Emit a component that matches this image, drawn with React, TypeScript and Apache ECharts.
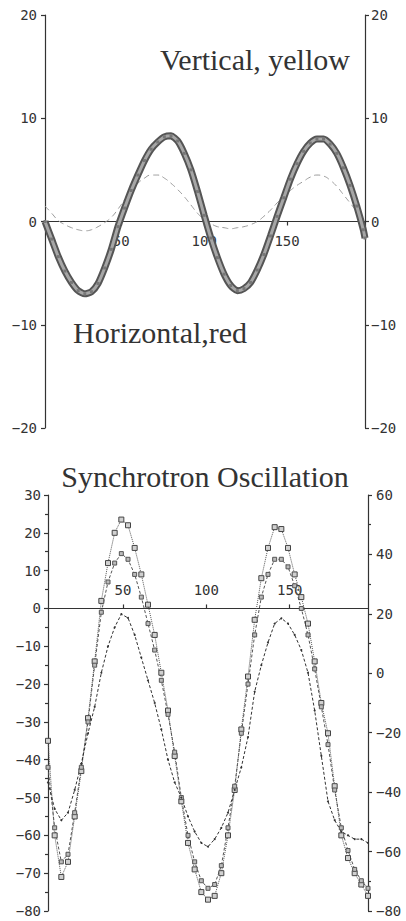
import React, { useEffect, useRef } from "react";
import * as echarts from "echarts";

// ---------- Top panel data (betatron oscillation) ----------
const topX = [4, 8, 12, 16, 20, 24, 28, 32, 36, 40, 44, 48, 52, 56, 60, 64, 68, 72, 76, 80, 84, 88, 92, 96, 100, 104, 108, 112, 116, 120, 124, 128, 132, 136, 140, 144, 148, 152, 156, 160, 164, 168, 172, 176, 180, 184, 188, 192, 196, 197];
const horizontalRed = [0, -1.7, -3.4, -4.8, -5.9, -6.7, -7.0, -6.8, -6.0, -4.5, -2.7, -0.5, 1.3, 3.0, 4.5, 5.9, 7.0, 7.7, 8.2, 8.3, 7.8, 6.6, 5.0, 2.9, 0.6, -1.6, -3.5, -5.1, -6.2, -6.7, -6.5, -5.9, -4.7, -3.2, -1.4, 0.5, 2.3, 4.1, 5.6, 6.8, 7.6, 8.0, 8.0, 7.5, 6.6, 5.2, 3.5, 1.5, -0.8, -1.6];
const verticalYellow = [1.5, 0.8, 0.1, -0.3, -0.6, -0.8, -0.9, -0.8, -0.5, -0.1, 0.4, 1.2, 2.1, 3.0, 3.7, 4.2, 4.5, 4.5, 4.2, 3.7, 3.1, 2.4, 1.6, 0.8, 0.2, -0.2, -0.5, -0.6, -0.7, -0.6, -0.5, -0.3, 0.0, 0.5, 1.1, 1.8, 2.4, 3.0, 3.5, 3.9, 4.3, 4.5, 4.4, 4.0, 3.4, 2.6, 1.8, 1.0, 0.4, 0.3];

// ---------- Bottom panel data (synchrotron oscillation) ----------
const bottomX = [5, 9, 13, 17, 21, 25, 29, 33, 37, 41, 45, 49, 53, 57, 61, 65, 69, 73, 77, 81, 85, 89, 93, 97, 101, 105, 109, 113, 117, 121, 125, 129, 133, 137, 141, 145, 149, 153, 157, 161, 165, 169, 173, 177, 181, 185, 189, 193, 197];
const synchA = [-35, -60, -71, -67, -55, -43, -29, -14, 2, 12, 20, 23.5, 22, 16, 9, 1, -7, -17, -27, -39, -51, -62, -69, -75, -77, -76, -70, -60, -48, -32, -18, -3, 8, 16, 21.5, 21, 16, 9, 3, -4, -14, -25, -33, -47, -60, -66, -70, -73, -76];
const synchB = [-42, -58, -67, -65, -54, -42, -30, -15, -1, 7, 12, 14.5, 13, 9, 3, -4, -11, -19, -28, -38, -50, -60, -67, -72, -74, -73, -68, -58, -47, -33, -20, -7, 3, 9, 13, 13, 11, 6, 0, -7, -16, -26, -36, -48, -58, -64, -69, -72, -74];
const synchC = [-46, -53, -56, -54, -48, -41, -33, -26, -17, -10, -5, -1.5, -2.5, -7, -13, -19, -25, -32, -40, -46, -50, -55, -59, -62, -63, -61, -58, -54, -48, -42, -34, -22, -15, -9, -4, -2.6, -4, -7, -11, -17, -27, -39, -51, -56, -59, -60, -61, -61, -62];

// ---------- Tick values ----------
const xTickValues = [50, 100, 150];

const AXIS = "#333";
const LABEL_FONT = "DejaVu Sans Mono";
const minusFmt = (v: number) => String(v).replace("-", "\u2212");

// layout (pixels)
const G0 = { left: 45, top: 15, width: 320, height: 413 };
const G1 = { left: 48, top: 495, width: 320, height: 416 };

export default function App() {
  const ref = useRef<HTMLDivElement>(null);

  useEffect(() => {
    if (!ref.current) return;
    const chart = echarts.init(ref.current, undefined, { renderer: "svg" });

    const pairs = (xs: number[], ys: number[]) => xs.map((x, i) => [x, ys[i]]);

    const axisLabel = (extra: any = {}) => ({
      color: "#333",
      fontFamily: LABEL_FONT,
      fontSize: 14,
      formatter: minusFmt,
      ...extra,
    });
    const lineStyle = { color: AXIS, width: 1.2 };

    // offsets that bring each x axis up to the y = 0 line of its left axis
    const off0 = -(G0.height * (0 - -20)) / 40;
    const off1 = -(G1.height * (0 - -80)) / 110;

    const option: any = {
      animation: false,
      backgroundColor: "#fff",
      grid: [G0, G1],
      xAxis: [
        {
          gridIndex: 0,
          type: "value",
          position: "bottom",
          offset: off0,
          min: 4,
          max: 197,
          axisLine: { onZero: false, lineStyle },
          axisTick: { show: true, customValues: xTickValues, length: 4, lineStyle },
          axisLabel: axisLabel({ customValues: xTickValues, margin: 12 }),
          splitLine: { show: false },
        },
        {
          gridIndex: 1,
          type: "value",
          position: "bottom",
          offset: off1,
          min: 5,
          max: 197,
          axisLine: { onZero: false, lineStyle },
          axisTick: { show: true, customValues: xTickValues, length: 4, inside: true, lineStyle },
          axisLabel: axisLabel({ customValues: xTickValues, inside: true, margin: 11 }),
          splitLine: { show: false },
        },
      ],
      yAxis: [
        {
          gridIndex: 0,
          type: "value",
          position: "left",
          min: -20,
          max: 20,
          interval: 10,
          axisLine: { show: true, onZero: false, lineStyle },
          axisTick: { show: true, length: 4, lineStyle },
          axisLabel: axisLabel({ margin: 8 }),
          splitLine: { show: false },
        },
        {
          gridIndex: 0,
          type: "value",
          position: "right",
          min: -20,
          max: 20,
          interval: 10,
          axisLine: { show: true, onZero: false, lineStyle },
          axisTick: { show: true, length: 4, lineStyle },
          axisLabel: axisLabel({ margin: 6 }),
          splitLine: { show: false },
        },
        {
          gridIndex: 1,
          type: "value",
          position: "left",
          min: -80,
          max: 30,
          interval: 10,
          axisLine: { show: true, onZero: false, lineStyle },
          axisTick: { show: true, length: 4, lineStyle },
          minorTick: { show: true, splitNumber: 2, length: 3, lineStyle },
          axisLabel: axisLabel({ margin: 7 }),
          splitLine: { show: false },
        },
        {
          gridIndex: 1,
          type: "value",
          position: "right",
          min: -80,
          max: 60,
          interval: 20,
          axisLine: { show: true, onZero: false, lineStyle },
          axisTick: { show: true, length: 4, lineStyle },
          minorTick: { show: true, splitNumber: 2, length: 3, lineStyle },
          axisLabel: axisLabel({ margin: 8 }),
          splitLine: { show: false },
        },
      ],
      series: [
        {
          name: "Vertical, yellow",
          type: "line",
          xAxisIndex: 0,
          yAxisIndex: 0,
          data: pairs(topX, verticalYellow),
          smooth: true,
          symbol: "none",
          lineStyle: { color: "#9a9a9a", width: 1, type: [6, 4] },
          z: 2,
        },
        {
          name: "Horizontal, red (edge)",
          type: "line",
          xAxisIndex: 0,
          yAxisIndex: 0,
          data: pairs(topX, horizontalRed),
          smooth: 0.2,
          symbol: "none",
          lineStyle: { color: "#555", width: 7 },
          z: 3,
        },
        {
          name: "Horizontal, red",
          type: "line",
          xAxisIndex: 0,
          yAxisIndex: 0,
          data: pairs(topX, horizontalRed),
          smooth: 0.2,
          symbol: "rect",
          symbolSize: 3,
          showAllSymbol: true,
          lineStyle: { color: "#a6a6a6", width: 3 },
          itemStyle: { color: "#777", borderWidth: 0 },
          z: 4,
        },
        {
          name: "A",
          type: "line",
          xAxisIndex: 1,
          yAxisIndex: 2,
          data: pairs(bottomX, synchA),
          symbol: "rect",
          symbolSize: 5,
          showAllSymbol: true,
          lineStyle: { color: "#555", width: 1, type: "dotted" },
          itemStyle: { color: "#d0d0d0", borderColor: "#444", borderWidth: 1 },
        },
        {
          name: "B",
          type: "line",
          xAxisIndex: 1,
          yAxisIndex: 2,
          data: pairs(bottomX, synchB),
          symbol: "rect",
          symbolSize: 4,
          showAllSymbol: true,
          lineStyle: { color: "#555", width: 1, type: [3, 2] },
          itemStyle: { color: "#bbb", borderColor: "#555", borderWidth: 1 },
        },
        {
          name: "C",
          type: "line",
          xAxisIndex: 1,
          yAxisIndex: 2,
          data: pairs(bottomX, synchC),
          symbol: "circle",
          symbolSize: 2,
          showAllSymbol: true,
          lineStyle: { color: "#333", width: 1, type: [3, 2] },
          itemStyle: { color: "#333" },
        },
      ],
      graphic: [
        {
          type: "text",
          x: 160,
          y: 59,
          style: {
            text: "Vertical, yellow",
            font: '30px "Liberation Serif"',
            fill: "#333",
            align: "left",
            verticalAlign: "middle",
          },
        },
        {
          type: "text",
          x: 73,
          y: 332,
          style: {
            text: "Horizontal,red",
            font: '30px "Liberation Serif"',
            fill: "#333",
            align: "left",
            verticalAlign: "middle",
          },
        },
        {
          type: "text",
          x: 205,
          y: 476,
          style: {
            text: "Synchrotron Oscillation",
            font: '30px "Liberation Serif"',
            fill: "#333",
            align: "center",
            verticalAlign: "middle",
          },
        },
      ],
    };

    chart.setOption(option);
    return () => chart.dispose();
  }, []);

  return (
    <div
      ref={ref}
      style={{ position: "absolute", left: 0, top: 0, width: 406, height: 921, background: "#fff" }}
    />
  );
}
